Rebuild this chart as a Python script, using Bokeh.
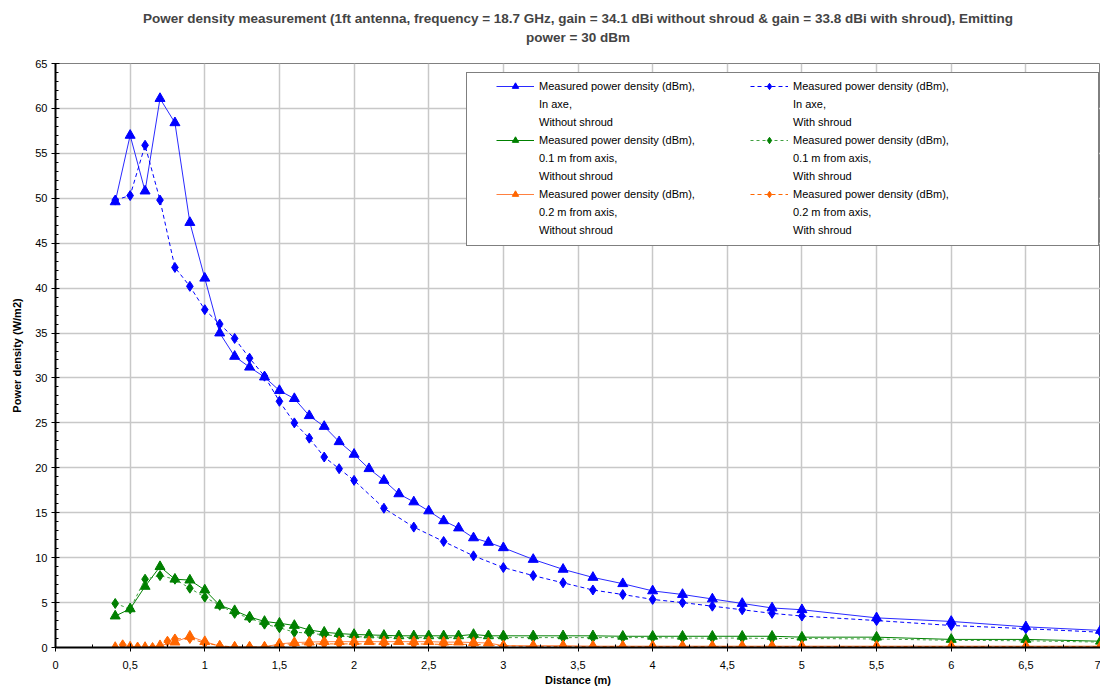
from bokeh.plotting import figure
from bokeh.models import (Legend, LegendItem, Title, FixedTicker,
                          CustomJSTickFormatter, Range1d)
from bokeh.embed import file_html
from bokeh.resources import INLINE

FONT = "Liberation Sans"

# Distances (m) of the measurement points
dist_without = [0.4, 0.5, 0.6, 0.7, 0.8, 0.9, 1.0, 1.1, 1.2, 1.3, 1.4, 1.5, 1.6, 1.7,
                1.8, 1.9, 2.0, 2.1, 2.2, 2.3, 2.4, 2.5, 2.6, 2.7, 2.8, 2.9, 3.0, 3.2,
                3.4, 3.6, 3.8, 4.0, 4.2, 4.4, 4.6, 4.8, 5.0, 5.5, 6.0, 6.5, 7.0]
dist_with = [0.4, 0.5, 0.6, 0.7, 0.8, 0.9, 1.0, 1.1, 1.2, 1.3, 1.4, 1.5, 1.6, 1.7,
             1.8, 1.9, 2.0, 2.2, 2.4, 2.6, 2.8, 3.0, 3.2, 3.4, 3.6, 3.8, 4.0, 4.2,
             4.4, 4.6, 4.8, 5.0, 5.5, 6.0, 6.5, 7.0]
dist_with_02 = [0.45, 0.55, 0.65, 0.75, 0.8, 0.9, 1.0, 1.1, 1.2, 1.3, 1.4, 1.5, 1.6,
                1.7, 1.8, 1.9, 2.0, 2.2, 2.4, 2.6, 2.8, 3.0, 3.2, 3.4, 3.6, 3.8, 4.0,
                4.2, 4.4, 4.6, 4.8, 5.0, 5.5, 6.0, 6.5, 7.0]

# Power density values (W/m2)
axis_without = [49.6, 57.0, 50.8, 61.1, 58.4, 47.3, 41.1, 35.0, 32.4, 31.2, 30.1, 28.6,
                27.7, 25.8, 24.6, 22.9, 21.5, 19.9, 18.6, 17.1, 16.2, 15.2, 14.1, 13.3,
                12.2, 11.7, 11.1, 9.8, 8.7, 7.8, 7.1, 6.3, 5.9, 5.4, 4.9, 4.4, 4.2,
                3.3, 2.9, 2.3, 1.9]
axis_with = [49.8, 50.3, 55.9, 49.8, 42.3, 40.2, 37.6, 36.0, 34.4, 32.2, 30.2, 27.4,
             25.0, 23.3, 21.2, 19.9, 18.6, 15.5, 13.4, 11.8, 10.2, 8.9, 8.0, 7.2, 6.4,
             5.9, 5.35, 5.0, 4.6, 4.2, 3.8, 3.5, 3.0, 2.45, 2.1, 1.7]
off01_without = [3.5, 4.3, 6.8, 9.0, 7.6, 7.5, 6.4, 4.7, 4.1, 3.4, 2.9, 2.7, 2.45, 1.95,
                 1.7, 1.55, 1.45, 1.4, 1.35, 1.3, 1.3, 1.3, 1.3, 1.3, 1.45, 1.3, 1.3,
                 1.3, 1.3, 1.3, 1.25, 1.25, 1.25, 1.25, 1.25, 1.25, 1.15, 1.15, 0.9,
                 0.9, 0.7]
off01_with = [4.9, 4.3, 7.6, 8.0, 7.6, 6.6, 5.6, 4.7, 3.8, 3.3, 2.6, 2.2, 1.7, 1.6,
              1.4, 1.3, 1.2, 1.15, 1.1, 1.1, 1.1, 1.1, 1.1, 1.1, 1.1, 1.1, 1.1, 1.05,
              1.05, 1.05, 1.0, 1.0, 0.95, 0.8, 0.75, 0.6]
off02_without = [0.0, 0.05, 0.0, 0.2, 0.6, 1.25, 0.65, 0.15, 0.05, 0.05, 0.05, 0.4,
                 0.55, 0.6, 0.65, 0.65, 0.65, 0.65, 0.65, 0.65, 0.65, 0.65, 0.6, 0.6,
                 0.55, 0.5, 0.2, 0.2, 0.2, 0.15, 0.15, 0.15, 0.15, 0.15, 0.15, 0.15,
                 0.15, 0.15, 0.15, 0.15, 0.15]
off02_with = [0.3, 0.05, 0.0, 0.7, 0.95, 1.0, 0.5, 0.2, 0.05, 0.05, 0.05, 0.35, 0.4,
              0.4, 0.4, 0.4, 0.4, 0.4, 0.4, 0.35, 0.35, 0.2, 0.1, 0.1, 0.1, 0.1, 0.1,
              0.1, 0.1, 0.1, 0.1, 0.1, 0.1, 0.1, 0.1, 0.1]

x_ticks = [0, 0.5, 1, 1.5, 2, 2.5, 3, 3.5, 4, 4.5, 5, 5.5, 6, 6.5, 7]
y_ticks = [0, 5, 10, 15, 20, 25, 30, 35, 40, 45, 50, 55, 60, 65]

title_line1 = ("Power density measurement (1ft antenna, frequency = 18.7 GHz, gain = 34.1 dBi "
               "without shroud & gain = 33.8 dBi with shroud), Emitting")
title_line2 = "power = 30 dBm"

legend_head = "Measured power density (dBm),"
positions = ["In axe,", "0.1 m from axis,", "0.2 m from axis,"]
shroud = ["Without shroud", "With shroud"]

p = figure(width=1100, height=688, output_backend="svg", toolbar_location=None,
           x_range=Range1d(0, 7), y_range=Range1d(0, 65),
           min_border_left=55, min_border_right=0, min_border_top=0,
           min_border_bottom=0)


def title_panel(text, size, standoff):
    return Title(text=text, align="center", text_font=FONT, text_font_size=size,
                 text_font_style="bold", standoff=standoff)


# "above" panels stack outwards from the frame: spacer, second line, first line;
# the figure's own title sits outermost and is used as a thin top spacer
p.add_layout(title_panel(" ", "1px", 15), "above")
p.add_layout(title_panel(title_line2, "13.5px", 2), "above")
p.add_layout(title_panel(title_line1, "13.5px", 1), "above")
p.title.text = " "
p.title.text_font_size = "1px"
p.title.standoff = 5

p.background_fill_color = "white"
p.border_fill_color = "white"
p.outline_line_color = "#808080"

# axes
for ax in (p.xaxis[0], p.yaxis[0]):
    ax.axis_line_color = "black"
    ax.axis_line_width = 2
    ax.major_tick_line_color = "black"
    ax.minor_tick_line_color = "black"
    ax.major_tick_in = 4
    ax.major_tick_out = 4
    ax.minor_tick_in = 3
    ax.minor_tick_out = 0
    ax.major_label_text_font = FONT
    ax.major_label_text_font_size = "11px"
    ax.major_label_text_color = "black"
    ax.axis_label_text_font = FONT
    ax.axis_label_text_font_size = "11px"
    ax.axis_label_text_font_style = "bold"
    ax.axis_label_text_color = "black"

p.xaxis.ticker = FixedTicker(ticks=x_ticks,
                             minor_ticks=[t / 4 for t in range(0, 29)])
p.yaxis.ticker = FixedTicker(ticks=y_ticks, minor_ticks=list(range(0, 66)))
p.xaxis.formatter = CustomJSTickFormatter(code="return tick.toString().replace('.', ',');")
p.xaxis.axis_label = "Distance (m)"
p.yaxis.axis_label = "Power density (W/m2)"
p.xaxis.major_label_standoff = 9
p.yaxis.major_label_standoff = 4
p.xaxis.axis_label_standoff = 2
p.yaxis.axis_label_standoff = 9

p.xgrid.grid_line_color = "#c8c8c8"
p.ygrid.grid_line_color = "#c8c8c8"
p.xgrid.grid_line_width = 1.5
p.ygrid.grid_line_width = 1.5

BLUE = "#0000ff"
GREEN = "#008000"
ORANGE = "#ff6600"


def series(x, y, line_color, marker_color, marker, dash):
    ln = p.line(x, y, line_color=line_color, line_width=1, line_dash=dash)
    mk = p.scatter(x, y, marker=marker, size=10,
                   fill_color=marker_color, line_color=marker_color)
    return [ln, mk]


r_axis_wo = series(dist_without, axis_without, "#2a2aff", BLUE, "triangle", "solid")
r_axis_w = series(dist_with, axis_with, BLUE, BLUE, "diamond", "4 3")
r_01_wo = series(dist_without, off01_without, GREEN, GREEN, "triangle", "solid")
r_01_w = series(dist_with, off01_with, "#40a040", GREEN, "diamond", "3 3")
r_02_wo = series(dist_without, off02_without, "#ff8040", ORANGE, "triangle", "solid")
r_02_w = series(dist_with_02, off02_with, ORANGE, ORANGE, "diamond", "4 3")

# an empty, invisible renderer for legend rows that carry no glyph
blank = p.line([], [], line_alpha=0)

# legend frame: a single empty row sized to the box
legend_box = Legend(items=[LegendItem(label=" ", renderers=[blank])],
                    location=(411, 401), margin=0, padding=0, spacing=0,
                    glyph_width=1, glyph_height=172, label_height=172,
                    label_standoff=0, label_width=630,
                    border_line_color="black", border_line_width=1,
                    background_fill_color="white", background_fill_alpha=1)
p.add_layout(legend_box, "center")

items = []
for s_idx, group in enumerate([[r_axis_wo, r_01_wo, r_02_wo], [r_axis_w, r_01_w, r_02_w]]):
    for pos, rends in zip(positions, group):
        items.append(LegendItem(label=legend_head, renderers=rends))
        items.append(LegendItem(label=pos, renderers=[blank]))
        items.append(LegendItem(label=shroud[s_idx], renderers=[blank]))

legend = Legend(items=items, ncols=2, location=(441, 409), margin=0, padding=0,
                spacing=2, glyph_width=38, glyph_height=16, label_height=16,
                label_standoff=5, label_width=209,
                label_text_font=FONT, label_text_font_size="11px",
                label_text_color="black",
                border_line_color=None, background_fill_alpha=0)
p.add_layout(legend, "center")

open("out.html", "w").write(file_html(p, INLINE))
